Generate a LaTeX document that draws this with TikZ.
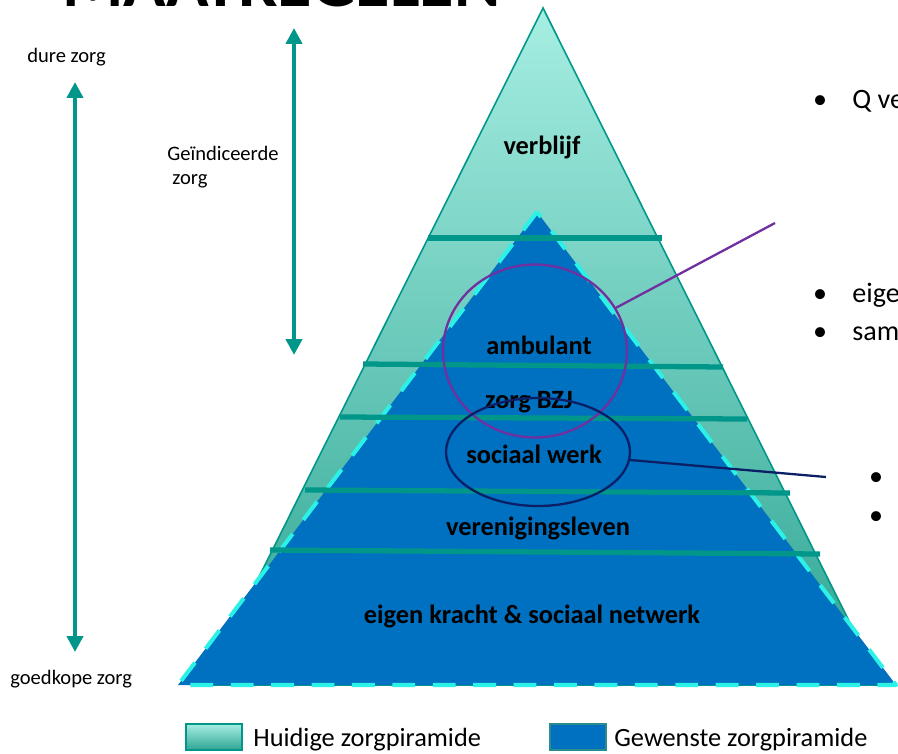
\documentclass[tikz,border=0pt]{standalone}
\usepackage{fontspec}
\setmainfont{Carlito}
\usetikzlibrary{arrows.meta,shapes.geometric}

\definecolor{tealedge}{HTML}{00968A}
\definecolor{teallight}{HTML}{A6EEE2}
\definecolor{tealdark}{HTML}{2FA593}
\definecolor{wantblue}{HTML}{0070C0}
\definecolor{dashcyan}{HTML}{2AF2E6}
\definecolor{ringpurple}{HTML}{7030A0}
\definecolor{ringnavy}{HTML}{0A1F66}
\definecolor{keyedge}{HTML}{2B8C8C}

\begin{document}
\begin{tikzpicture}[x=0.02cm, y=-0.02cm,
	layer/.style={font=\fontsize{15}{18}\selectfont\bfseries, inner sep=0pt},
	side/.style={font=\fontsize{11.7}{13.6}\selectfont, align=left, inner sep=0pt},
	strip/.style={draw=tealedge, line width=3pt},
	carearrow/.style={draw=tealedge, line width=2.8pt, {Triangle[length=9pt,width=9pt]}-{Triangle[length=9pt,width=9pt]}},
	ring/.style={ellipse, draw, line width=1.3pt, inner sep=0pt},
	bigtext/.style={font=\fontsize{16}{19}\selectfont, inner sep=0pt}]

\path [use as bounding box] (0,0) rectangle (898,753);
\clip (0,0) rectangle (898,753);

% TITLE
\node [font=\fontsize{40}{48}\selectfont\bfseries, anchor=base west, inner sep=0pt] (title) at (62,7) {MAATREGELEN};

% CURRENT PYRAMID
\filldraw [draw=tealedge, line width=0.9pt, top color=teallight, bottom color=tealdark] (543,8) -- (205,685) -- (881,685) -- cycle;

% WANTED PYRAMID
\fill [wantblue] (537,212) -- (178,685) -- (896,685) -- cycle;
\draw [dashcyan, line width=2.3pt, dash pattern=on 13pt off 10pt, line join=round] (537,212) -- (178,685) -- (896,685) -- cycle;

% LEVELS
\draw [strip] (428,238) -- (662,238);
\draw [strip] (363,364) -- (723,367);
\draw [strip] (340,417) -- (747,419);
\draw [strip] (305,490) -- (790,493);
\draw [strip] (270,550) -- (820,554);

% LABELS
\node [layer] (verblijf) at (542,147) {verblijf};
\node [layer] (ambulant) at (539,345) {ambulant};
\node [layer] (bzj) at (529,402) {zorg BZJ};
\node [layer] (sociaal) at (534,454) {sociaal werk};
\node [layer] (vereniging) at (538,528) {verenigingsleven};
\node [layer] (eigen) at (532,616) {eigen kracht \& sociaal netwerk};

% RINGS
\node [ring, draw=ringpurple, minimum width=3.68cm, minimum height=3.46cm] (ringtop) at (535,351) {};
\node [ring, draw=ringnavy, minimum width=3.68cm, minimum height=2.16cm] (ringlow) at (538,452) {};
\coordinate (ringtopend) at (775,223);
\coordinate (ringlowend) at (826,477);
\draw [ringpurple, line width=1.3pt] (ringtop) -- (ringtopend);
\draw [ringnavy, line width=1.3pt] (ringlow) -- (ringlowend);

% SIDE ARROWS
\coordinate (costtop) at (75,82);
\coordinate (costbot) at (75,652);
\coordinate (indtop) at (294,28);
\coordinate (indbot) at (294,355);
\draw [carearrow] (costtop) -- (costbot);
\draw [carearrow] (indtop) -- (indbot);
\node [side, anchor=base west] (dure) at (27,63) {dure zorg};
\node [side, anchor=base west] (goedkoop) at (10,684) {goedkope zorg};
\node [side, anchor=north west] (geind) at (167,146) {Geïndiceerde\\\hspace*{0.1cm}zorg};

% BULLETS
\node [bigtext, anchor=base] (dotq) at (820,109) {•};
\node [bigtext, anchor=base west] (textq) at (852,109) {Q ve};
\node [bigtext, anchor=base] (dotown) at (820,302) {•};
\node [bigtext, anchor=base west] (textown) at (852,302) {eige};
\node [bigtext, anchor=base] (dotsam) at (820,340) {•};
\node [bigtext, anchor=base west] (textsam) at (852,340) {sam};
\node [bigtext, anchor=base] (dotlowa) at (876,485) {•};
\node [bigtext, anchor=base] (dotlowb) at (876,524) {•};

% KEY
\node [draw=tealedge, line width=1pt, top color=teallight, bottom color=tealdark, minimum width=1.12cm, minimum height=0.52cm, inner sep=0pt] (keynow) at (214,737) {};
\node [bigtext, font=\fontsize{15}{18}\selectfont, anchor=base west] (keynowtext) at (253,746) {Huidige zorgpiramide};
\node [draw=keyedge, line width=1pt, fill=wantblue, minimum width=1.12cm, minimum height=0.52cm, inner sep=0pt] (keywant) at (578,737) {};
\node [bigtext, font=\fontsize{15}{18}\selectfont, anchor=base west] (keywanttext) at (614,746) {Gewenste zorgpiramide};

\end{tikzpicture}
\end{document}
